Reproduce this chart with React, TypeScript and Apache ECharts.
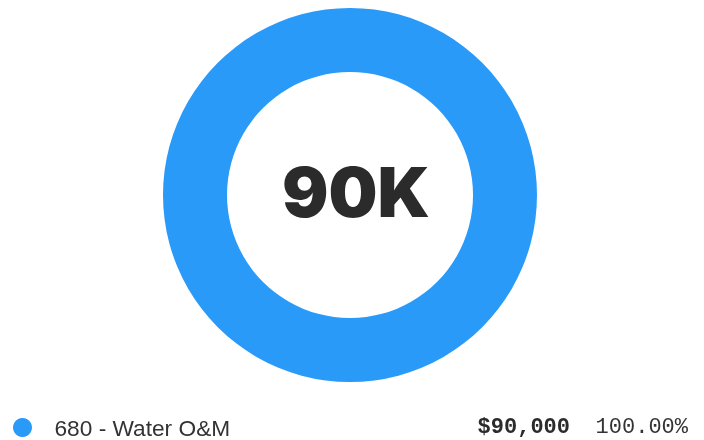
import React, { useEffect, useRef } from "react";
import * as echarts from "echarts";

const categories = ["680 - Water O&M"];
const values = [90000];
const colors = ["#2A9AF9"];

function fmtShort(v: number): string {
  if (v >= 1e6) return Math.round(v / 1e6) + "M";
  if (v >= 1e3) return Math.round(v / 1e3) + "K";
  return String(v);
}
function fmtMoney(v: number): string {
  return "$" + v.toLocaleString("en-US");
}

export default function App() {
  const ref = useRef<HTMLDivElement>(null);
  useEffect(() => {
    if (!ref.current) return;
    const chart = echarts.init(ref.current, null, { renderer: "svg" });
    const total = values.reduce((a, b) => a + b, 0);
    const data = categories.map((c, i) => ({ name: c, value: values[i], itemStyle: { color: colors[i] } }));
    chart.setOption({
      animation: false,
      legend: {
        data: categories,
        orient: "vertical",
        left: 13,
        top: 416,
        padding: 0,
        icon: "circle",
        itemWidth: 20,
        itemHeight: 19,
        selectedMode: false,
        textStyle: {
          fontFamily: "'Liberation Sans', Arial, sans-serif",
          fontSize: 22.7,
          color: "#333",
          padding: [0, 0, 2, 17],
        },
      },
      graphic: [
        {
          type: "text",
          x: 356,
          y: 192,
          style: {
            text: fmtShort(total),
            fontFamily: "Inter, 'Liberation Sans', Arial, sans-serif",
            fontWeight: 900,
            fontSize: 69,
            fill: "#2b2b2b",
            textAlign: "center",
            textVerticalAlign: "middle",
          },
        },
        ...categories.flatMap((c, i) => [
          {
            type: "text",
            x: 570,
            y: 427 + i * 30,
            style: {
              text: fmtMoney(values[i]),
              fontFamily: "'Liberation Mono', 'Courier New', monospace",
              fontWeight: "bold",
              fontSize: 22,
              fill: "#2b2b2b",
              textAlign: "right",
              textVerticalAlign: "middle",
            },
          },
          {
            type: "text",
            x: 688,
            y: 427 + i * 30,
            style: {
              text: ((values[i] / total) * 100).toFixed(2) + "%",
              fontFamily: "'Liberation Mono', 'Courier New', monospace",
              fontSize: 22,
              fill: "#333",
              textAlign: "right",
              textVerticalAlign: "middle",
            },
          },
        ]),
      ],
      series: [
        {
          type: "pie",
          radius: [123, 187],
          center: [350, 195],
          data,
          label: { show: false },
          labelLine: { show: false },
          emphasis: { disabled: true },
          silent: true,
        },
      ],
    });
    return () => chart.dispose();
  }, []);
  return <div ref={ref} style={{ position: "fixed", left: 0, top: 0, width: 704, height: 440 }} />;
}
